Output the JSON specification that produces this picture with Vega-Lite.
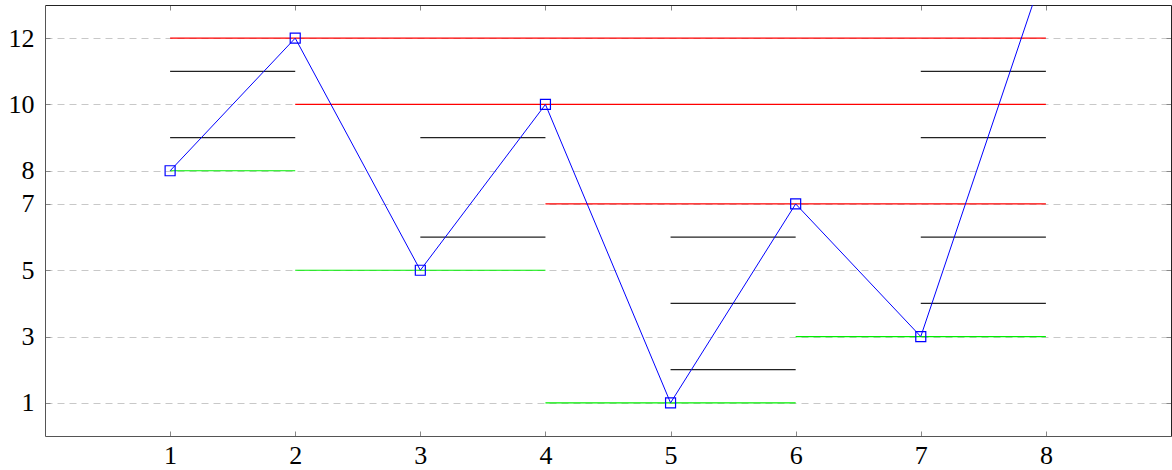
{
  "$schema": "https://vega.github.io/schema/vega-lite/v6.json",
  "autosize": "none",
  "width": 1126,
  "height": 431,
  "padding": {"left": 45, "top": 5, "right": 1, "bottom": 34},
  "background": "white",
  "config": {
    "view": {"stroke": null},
    "axis": {
      "labelFont": "Liberation Serif",
      "labelFontSize": 26,
      "labelColor": "black",
      "domainColor": "#333333",
      "tickColor": "#888888",
      "tickSize": -5,
      "title": null
    }
  },
  "datasets": {
    "segments": [
      {"x": 1, "x2": 8, "y": 12, "c": "red"},
      {"x": 2, "x2": 8, "y": 10, "c": "red"},
      {"x": 4, "x2": 8, "y": 7, "c": "red"},
      {"x": 1, "x2": 2, "y": 8, "c": "green"},
      {"x": 2, "x2": 4, "y": 5, "c": "green"},
      {"x": 4, "x2": 6, "y": 1, "c": "green"},
      {"x": 6, "x2": 8, "y": 3, "c": "green"},
      {"x": 1, "x2": 2, "y": 11, "c": "black"},
      {"x": 1, "x2": 2, "y": 9, "c": "black"},
      {"x": 3, "x2": 4, "y": 9, "c": "black"},
      {"x": 3, "x2": 4, "y": 6, "c": "black"},
      {"x": 5, "x2": 6, "y": 6, "c": "black"},
      {"x": 5, "x2": 6, "y": 4, "c": "black"},
      {"x": 5, "x2": 6, "y": 2, "c": "black"},
      {"x": 7, "x2": 8, "y": 11, "c": "black"},
      {"x": 7, "x2": 8, "y": 9, "c": "black"},
      {"x": 7, "x2": 8, "y": 6, "c": "black"},
      {"x": 7, "x2": 8, "y": 4, "c": "black"}
    ],
    "series": [
      {"x": 1, "y": 8},
      {"x": 2, "y": 12},
      {"x": 3, "y": 5},
      {"x": 4, "y": 10},
      {"x": 5, "y": 1},
      {"x": 6, "y": 7},
      {"x": 7, "y": 3},
      {"x": 8, "y": 14.2}
    ]
  },
  "layer": [
    {
      "data": {"name": "segments"},
      "mark": {"type": "rule", "strokeWidth": 1.2},
      "encoding": {
        "x": {
          "field": "x", "type": "quantitative",
          "scale": {"domain": [0, 9], "nice": false, "zero": false},
          "axis": {"orient": "bottom", "values": [1, 2, 3, 4, 5, 6, 7, 8], "labelFont": "Liberation Serif", "labelFontSize": 26, "labelPadding": 11, "grid": false, "domainColor": "#555555"}
        },
        "x2": {"field": "x2"},
        "y": {
          "field": "y", "type": "quantitative",
          "scale": {"domain": [0, 13], "nice": false, "zero": false},
          "axis": {"orient": "left", "values": [1, 3, 5, 7, 8, 10, 12], "labelFont": "Liberation Serif", "labelFontSize": 26, "labelPadding": 16, "grid": true, "gridColor": "#c8c8c8", "gridDash": [7, 5], "gridWidth": 1, "domainColor": "#555555"}
        },
        "color": {
          "field": "c", "type": "nominal",
          "scale": {"domain": ["red", "green", "black"], "range": ["#ff0000", "#00ee00", "#222222"]},
          "legend": null
        }
      }
    },
    {
      "data": {"name": "series"},
      "mark": {"type": "line", "color": "#0000ff", "strokeWidth": 1, "clip": true},
      "encoding": {
        "x": {"field": "x", "type": "quantitative", "axis": {"orient": "top", "values": [1, 2, 3, 4, 5, 6, 7, 8], "labels": false, "grid": false, "domainColor": "#222222"}},
        "y": {"field": "y", "type": "quantitative", "axis": {"orient": "right", "values": [1, 3, 5, 7, 8, 10, 12], "labels": false, "grid": false, "domainColor": "#222222"}}
      }
    },
    {
      "data": {"name": "series"},
      "transform": [{"filter": "datum.y <= 13"}],
      "mark": {"type": "point", "shape": "square", "filled": false, "color": "#0000ff", "strokeWidth": 1.2, "size": 100, "opacity": 1},
      "encoding": {
        "x": {"field": "x", "type": "quantitative", "axis": null},
        "y": {"field": "y", "type": "quantitative", "axis": null}
      }
    }
  ],
  "resolve": {"axis": {"x": "independent", "y": "independent"}}
}
